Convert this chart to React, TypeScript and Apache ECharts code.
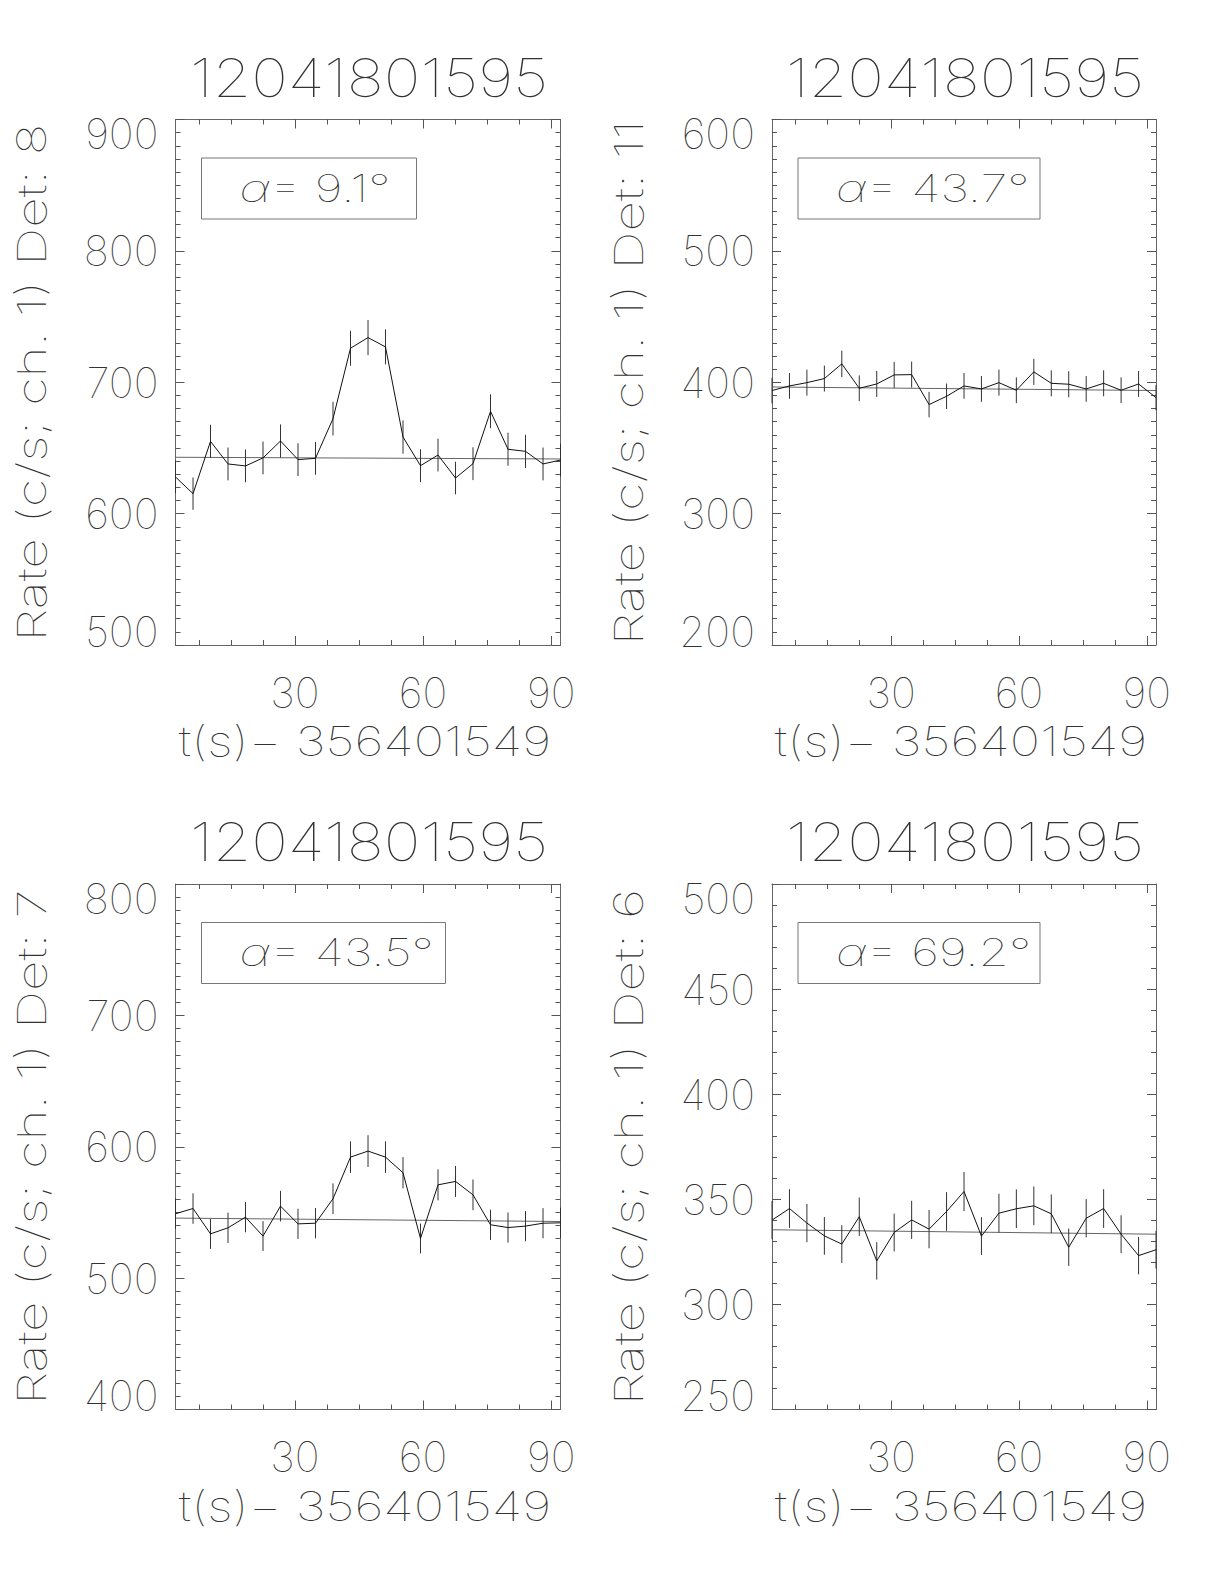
import React, { useEffect, useRef } from "react";
import * as echarts from "echarts";

// Time bins (s after 356401549)
const times = [2.05, 6.15, 10.24, 14.34, 18.43, 22.53, 26.63, 30.72, 34.82, 38.91, 43.01, 47.11, 51.2, 55.3, 59.39, 63.49, 67.59, 71.68, 75.78, 79.87, 83.97, 88.07, 92.16];

// Det 8
const rates8 = [627.9, 615.2, 655.0, 637.8, 636.3, 642.4, 655.3, 641.1, 642.1, 672.3, 725.9, 734.0, 726.9, 658.3, 636.5, 644.6, 627.1, 638.0, 677.9, 649.0, 647.4, 637.8, 640.8];
const errors8 = [12.4, 12.3, 12.6, 12.5, 12.5, 12.5, 12.6, 12.5, 12.5, 12.8, 13.3, 13.4, 13.3, 12.7, 12.5, 12.5, 12.4, 12.5, 12.9, 12.6, 12.6, 12.5, 12.5];
const fit8 = [642.9, 641.6];

// Det 11
const rates11 = [393.7, 397.2, 399.7, 402.8, 414.0, 395.4, 398.7, 405.6, 405.8, 383.0, 389.3, 397.2, 394.9, 399.7, 393.9, 407.9, 399.2, 398.5, 394.9, 399.2, 393.9, 398.7, 388.3];
const errors11 = [9.8, 9.8, 9.9, 9.9, 10.1, 9.8, 9.9, 9.9, 9.9, 9.7, 9.7, 9.8, 9.8, 9.9, 9.8, 9.9, 9.9, 9.9, 9.8, 9.9, 9.8, 9.9, 9.7];
const fit11 = [396.4, 393.7];

// Det 7
const rates7 = [549.0, 553.0, 533.7, 538.3, 546.4, 532.0, 554.8, 541.3, 541.8, 560.4, 592.1, 596.7, 592.1, 580.2, 530.2, 571.0, 573.6, 563.4, 540.6, 538.5, 539.6, 541.8, 542.1];
const errors7 = [11.6, 11.6, 11.4, 11.5, 11.5, 11.4, 11.6, 11.5, 11.5, 11.7, 12.0, 12.1, 12.0, 11.9, 11.4, 11.8, 11.8, 11.7, 11.5, 11.5, 11.5, 11.5, 11.5];
const fit7 = [545.7, 543.1];

// Det 6
const rates6 = [340.1, 345.6, 338.7, 332.6, 328.7, 341.7, 320.7, 334.2, 340.2, 335.8, 344.2, 353.7, 332.5, 343.4, 345.5, 346.9, 343.1, 327.2, 341.0, 345.6, 333.4, 323.2, 326.0];
const errors6 = [9.1, 9.2, 9.1, 9.0, 9.0, 9.1, 8.9, 9.0, 9.1, 9.1, 9.2, 9.3, 9.0, 9.2, 9.2, 9.2, 9.2, 8.9, 9.1, 9.2, 9.0, 8.9, 8.9];
const fit6 = [335.5, 333.4];

const majorX = [30, 60, 90];
const minorX = [7.5, 15, 22.5, 30, 37.5, 45, 52.5, 60, 67.5, 75, 82.5, 90];

const titleText = "12041801595";
const xTitle = "t(s)\u2212 356401549";

const panels = [
  { det: "8", alpha: "9.1", rates: rates8, errors: errors8, fit: fit8, ymin: 500, ymax: 900, yint: 100, ysplit: 10 },
  { det: "11", alpha: "43.7", rates: rates11, errors: errors11, fit: fit11, ymin: 200, ymax: 600, yint: 100, ysplit: 10 },
  { det: "7", alpha: "43.5", rates: rates7, errors: errors7, fit: fit7, ymin: 400, ymax: 800, yint: 100, ysplit: 10 },
  { det: "6", alpha: "69.2", rates: rates6, errors: errors6, fit: fit6, ymin: 250, ymax: 500, yint: 50, ysplit: 5 },
];

// layout (pixels)
const layout = [
  { left: 175.5, top: 119.5, width: 385, boxW: 215 },
  { left: 772, top: 119.5, width: 384, boxW: 242 },
  { left: 175.5, top: 884, width: 385, boxW: 244 },
  { left: 772, top: 884, width: 384, boxW: 242 },
];
const PH = 525.5;

const FONT = "Inter, 'Noto Sans', sans-serif";
const FW = 100;
const TXT = "#333";
const AX = "#666";

export default function App() {
  const ref = useRef<HTMLDivElement>(null);
  useEffect(() => {
    if (!ref.current) return;
    const chart = echarts.init(ref.current, undefined, { renderer: "svg" });
    const T0 = times[0];
    const T1 = times[times.length - 1];

    const grid: any[] = [];
    const xAxis: any[] = [];
    const yAxis: any[] = [];
    const series: any[] = [];
    const graphic: any[] = [];

    panels.forEach((p, i) => {
      const L = layout[i];
      grid.push({ left: L.left, top: L.top, width: L.width, height: PH, containLabel: false });
      const xBase = {
        gridIndex: i, type: "value", min: T0, max: T1, splitLine: { show: false },
      };
      xAxis.push({
        ...xBase, position: "bottom",
        axisLine: { show: true, onZero: false, lineStyle: { color: AX, width: 1 } },
        axisTick: { show: true, inside: true, length: 9, customValues: majorX, lineStyle: { color: "#555" } },
        axisLabel: { show: true, customValues: majorX, margin: 26, fontSize: 42, fontFamily: FONT, fontWeight: FW, color: TXT },
      });
      xAxis.push({
        ...xBase, position: "bottom",
        axisLine: { show: false, onZero: false },
        axisTick: { show: true, inside: true, length: 5, customValues: minorX, lineStyle: { color: "#555" } },
        axisLabel: { show: false },
      });
      xAxis.push({
        ...xBase, position: "top",
        axisLine: { show: true, onZero: false, lineStyle: { color: AX, width: 1 } },
        axisTick: { show: true, inside: true, length: 9, customValues: majorX, lineStyle: { color: "#555" } },
        axisLabel: { show: false },
      });
      xAxis.push({
        ...xBase, position: "top",
        axisLine: { show: false, onZero: false },
        axisTick: { show: true, inside: true, length: 5, customValues: minorX, lineStyle: { color: "#555" } },
        axisLabel: { show: false },
      });

      const yBase = {
        gridIndex: i, type: "value", min: p.ymin, max: p.ymax, interval: p.yint, splitLine: { show: false },
        minorTick: { show: true, splitNumber: p.ysplit, length: 5, lineStyle: { color: "#555" } },
        minorSplitLine: { show: false },
      };
      yAxis.push({
        ...yBase, position: "left",
        axisLine: { show: true, onZero: false, lineStyle: { color: AX, width: 1 } },
        axisTick: { show: true, inside: true, length: 9, lineStyle: { color: "#555" } },
        axisLabel: {
          show: true, margin: 17, fontSize: 42, lineHeight: 28, fontFamily: FONT, fontWeight: FW, color: TXT,
          verticalAlignMaxLabel: "top", verticalAlignMinLabel: "bottom",
        },
      });
      yAxis.push({
        ...yBase, position: "right",
        axisLine: { show: true, onZero: false, lineStyle: { color: AX, width: 1 } },
        axisTick: { show: true, inside: true, length: 9, lineStyle: { color: "#555" } },
        axisLabel: { show: false },
      });

      const xi = i * 4;
      const yi = i * 2;
      series.push({
        type: "line", xAxisIndex: xi, yAxisIndex: yi, silent: true,
        data: [[T0, p.fit[0]], [T1, p.fit[1]]],
        symbol: "none", lineStyle: { color: "#666", width: 1 }, z: 2,
      });
      series.push({
        type: "custom", xAxisIndex: xi, yAxisIndex: yi, silent: true,
        data: times.map((t, k) => [t, p.rates[k] - p.errors[k], p.rates[k] + p.errors[k]]),
        renderItem: (params: any, api: any) => {
          const a = api.coord([api.value(0), api.value(1)]);
          const b = api.coord([api.value(0), api.value(2)]);
          return {
            type: "line",
            shape: { x1: a[0], y1: a[1], x2: b[0], y2: b[1] },
            style: { stroke: "#333", lineWidth: 1 },
          };
        },
        z: 3,
      });
      series.push({
        type: "line", xAxisIndex: xi, yAxisIndex: yi, silent: true,
        data: times.map((t, k) => [t, p.rates[k]]),
        symbol: "none", lineStyle: { color: "#111", width: 1 }, z: 4,
      });

      const cx = L.left + L.width / 2;
      graphic.push({
        type: "text", x: cx + 1, y: L.top - 42, scaleX: 1.17, silent: true,
        style: { text: titleText, fontSize: 53, fontFamily: FONT, fontWeight: FW, fill: TXT, align: "center", verticalAlign: "middle" },
      });
      graphic.push({
        type: "text", x: cx - 3, y: L.top + PH + 96, scaleX: 1.25, silent: true,
        style: { text: xTitle, fontSize: 41, fontFamily: FONT, fontWeight: FW, fill: TXT, align: "center", verticalAlign: "middle" },
      });
      graphic.push({
        type: "text", x: L.left - 144, y: L.top + 263, rotation: Math.PI / 2, scaleX: 1.33, silent: true,
        style: { text: "Rate (c/s; ch. 1) Det: " + p.det, fontSize: 40, fontFamily: FONT, fontWeight: FW, fill: TXT, align: "center", verticalAlign: "middle" },
      });
      graphic.push({
        type: "rect", silent: true,
        shape: { x: L.left + 26, y: L.top + 38.5, width: L.boxW, height: 61 },
        style: { fill: "none", stroke: "#777", lineWidth: 1 },
      });
      graphic.push({
        type: "text", x: L.left + 64, y: L.top + 69, scaleX: 1.29, silent: true,
        style: {
          text: "{a|\u03B1}= " + p.alpha + "\u00B0",
          fontSize: 38, fontFamily: FONT, fontWeight: FW, fill: TXT, align: "left", verticalAlign: "middle",
          rich: { a: { fontSize: 38, fontFamily: FONT, fontWeight: FW, fontStyle: "italic", fill: TXT } },
        },
      });
    });

    chart.setOption({
      animation: false,
      backgroundColor: "#fff",
      grid, xAxis, yAxis, series, graphic,
    });
    return () => chart.dispose();
  }, []);
  return <div ref={ref} style={{ position: "absolute", left: 0, top: 0, width: 1224, height: 1584 }} />;
}
